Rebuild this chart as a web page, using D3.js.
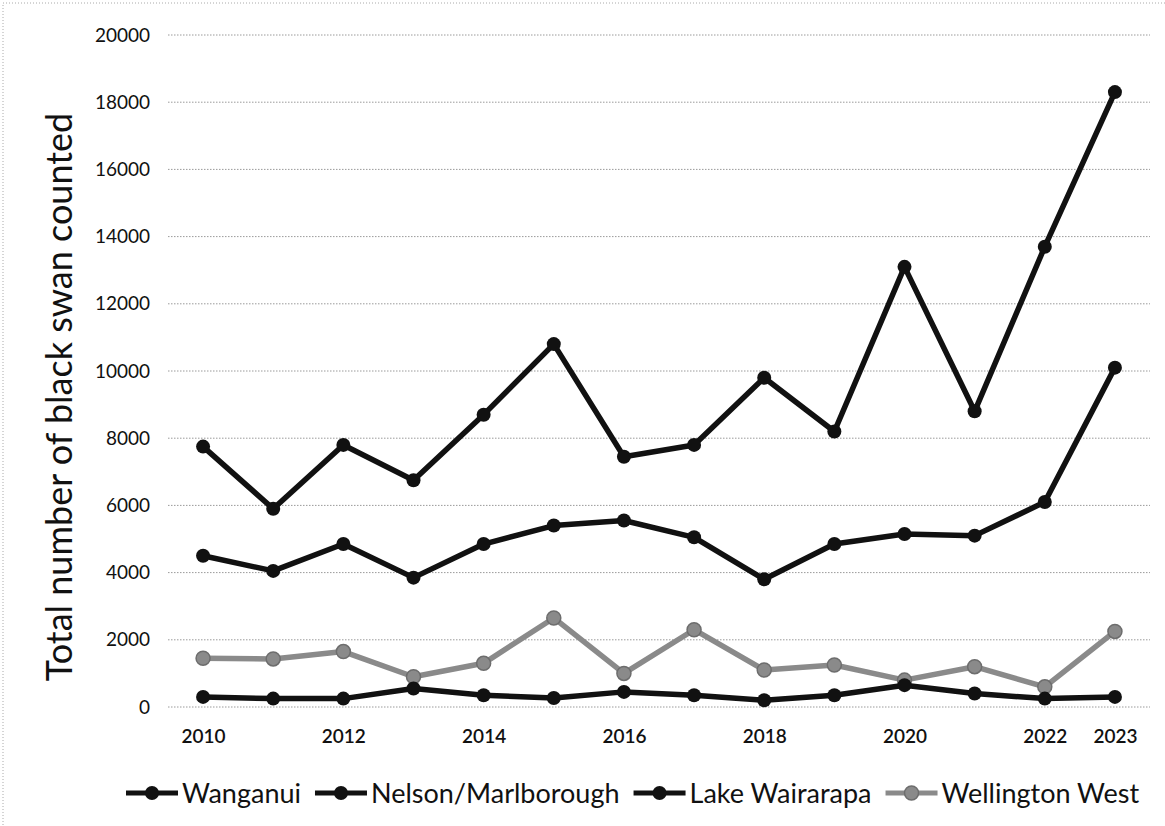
<!DOCTYPE html>
<html>
<head>
<meta charset="utf-8">
<script src="https://cdn.jsdelivr.net/npm/d3@7"></script>
<style>
  body { margin: 0; background: #fff; }
  svg { display: block; font-family: Lato, "Open Sans", sans-serif; }
</style>
</head>
<body>
<div id="chart"></div>
<script>
// years counted
const years = [2010, 2011, 2012, 2013, 2014, 2015, 2016, 2017, 2018, 2019, 2020, 2021, 2022, 2023];
const xTickYears = [2010, 2012, 2014, 2016, 2018, 2020, 2022, 2023];
const yTicks = [0, 2000, 4000, 6000, 8000, 10000, 12000, 14000, 16000, 18000, 20000];

// counts per region
const wanganui = [300, 250, 250, 550, 350, 270, 450, 350, 200, 350, 650, 400, 250, 300];
const nelsonMarlborough = [4500, 4050, 4850, 3850, 4850, 5400, 5550, 5050, 3800, 4850, 5150, 5100, 6100, 10100];
const lakeWairarapa = [7750, 5900, 7800, 6750, 8700, 10800, 7450, 7800, 9800, 8200, 13100, 8800, 13700, 18300];
const wellingtonWest = [1450, 1430, 1650, 900, 1300, 2650, 1000, 2300, 1100, 1250, 800, 1200, 600, 2250];

const seriesNames = ['Wanganui', 'Nelson/Marlborough', 'Lake Wairarapa', 'Wellington West'];
const seriesValues = [wanganui, nelsonMarlborough, lakeWairarapa, wellingtonWest];
const seriesColors = ['#111', '#111', '#111', '#8a8a8a'];

const width = 1165, height = 826;
const svg = d3.select('#chart').append('svg')
    .attr('width', width)
    .attr('height', height);

// faint scan edge
svg.append('path')
    .attr('d', 'M1165,3 H3 V826')
    .attr('fill', 'none')
    .attr('stroke', '#aaa')
    .attr('stroke-width', 1)
    .attr('stroke-dasharray', '1,2');

const x = d3.scalePoint()
    .domain(years)
    .range([168, 1150])
    .padding(0.5);

const y = d3.scaleLinear()
    .domain([0, 20000])
    .range([707, 35]);

// gridlines
svg.append('g')
    .selectAll('line')
    .data(yTicks)
    .join('line')
    .attr('x1', 168)
    .attr('x2', 1150)
    .attr('y1', d => y(d))
    .attr('y2', d => y(d))
    .attr('stroke', '#9a9a9a')
    .attr('stroke-width', 1)
    .attr('stroke-dasharray', '1.5,1.5');

// y axis labels
const yAxis = svg.append('g')
    .attr('transform', 'translate(150,0)')
    .call(d3.axisLeft(y).tickValues(yTicks).tickSize(0).tickPadding(0).tickFormat(d3.format('d')));
yAxis.select('.domain').remove();
yAxis.selectAll('text')
    .attr('font-family', 'Lato, sans-serif')
    .attr('font-size', 19)
    .attr('fill', '#111');

// x axis labels
const xAxis = svg.append('g')
    .attr('transform', 'translate(0,722)')
    .call(d3.axisBottom(x).tickValues(xTickYears).tickSize(0).tickPadding(8));
xAxis.select('.domain').remove();
xAxis.selectAll('text')
    .attr('font-family', 'Lato, sans-serif')
    .attr('font-size', 19)
    .attr('font-weight', 600)
    .attr('fill', '#111');

// y title
svg.append('text')
    .attr('transform', 'translate(72,397) rotate(-90)')
    .attr('text-anchor', 'middle')
    .attr('font-size', 36)
    .attr('fill', '#111')
    .text('Total number of black swan counted');

// lines
const line = d3.line()
    .x((d, i) => x(years[i]))
    .y(d => y(d));

// draw grey series first? keep Excel order
const plotOrder = [3, 0, 1, 2];
plotOrder.forEach(k => {
    const g = svg.append('g');
    g.append('path')
        .datum(seriesValues[k])
        .attr('d', line)
        .attr('fill', 'none')
        .attr('stroke', seriesColors[k])
        .attr('stroke-width', 5.5)
        .attr('stroke-linejoin', 'round');
    g.selectAll('circle')
        .data(seriesValues[k])
        .join('circle')
        .attr('cx', (d, i) => x(years[i]))
        .attr('cy', d => y(d))
        .attr('r', 7)
        .attr('fill', seriesColors[k])
        .attr('stroke', k === 3 ? '#6d6d6d' : 'none')
        .attr('stroke-width', 1.5);
});

// legend
const legend = svg.append('g').attr('transform', 'translate(0,793)');
let lx = 126;
seriesNames.forEach((name, k) => {
    const item = legend.append('g').attr('transform', `translate(${lx},0)`);
    item.append('line')
        .attr('x1', 0).attr('x2', 52)
        .attr('stroke', seriesColors[k])
        .attr('stroke-width', 5);
    item.append('circle')
        .attr('cx', 26).attr('r', 7)
        .attr('fill', seriesColors[k])
        .attr('stroke', k === 3 ? '#6d6d6d' : 'none')
        .attr('stroke-width', 1.5);
    const t = item.append('text')
        .attr('x', 56)
        .attr('y', 10)
        .attr('font-size', 27)
        .attr('fill', '#111')
        .text(name);
    lx += 56 + t.node().getComputedTextLength() + 14;
});
</script>
</body>
</html>
